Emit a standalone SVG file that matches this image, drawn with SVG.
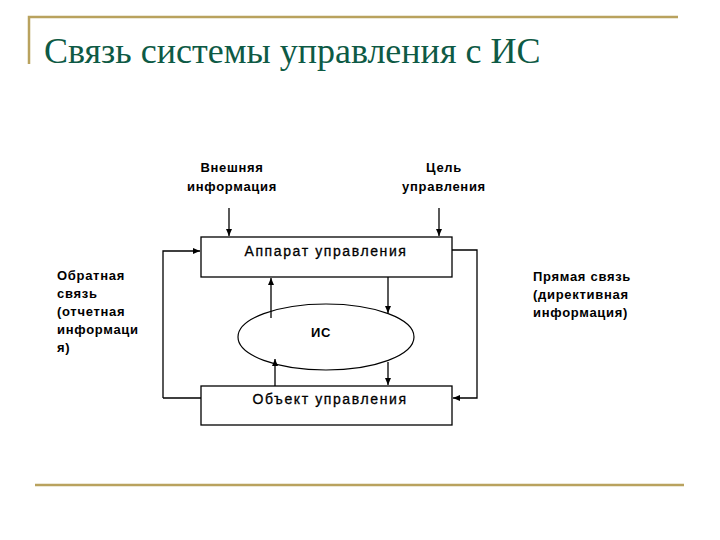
<svg xmlns="http://www.w3.org/2000/svg" width="720" height="540" viewBox="0 0 720 540">
<defs>
<marker id="ah" markerWidth="8" markerHeight="8" refX="7" refY="4" orient="auto" markerUnits="userSpaceOnUse">
<path d="M0,1 L7,4 L0,7 Z" fill="#000"/>
</marker>
<style>
.ln{stroke:#000;stroke-width:1.3;fill:none}
.box{stroke:#000;stroke-width:1.3;fill:#fff}
.lbl{font-family:"Liberation Sans",Arial,sans-serif;font-size:13px;font-weight:bold;letter-spacing:0.7px;fill:#000}
.ttl{font-family:"Liberation Sans",Arial,sans-serif;font-size:14px;letter-spacing:1.6px;fill:#000;stroke:#000;stroke-width:0.3}
.gold{stroke:#B9A25E;stroke-width:2.5;fill:none}
</style>
</defs>
<rect width="720" height="540" fill="#fff"/>
<g id="frame">
<path class="gold" d="M29,64 V17 H678"/>
<path class="gold" d="M35,485 H684"/>
</g>
<text id="title" x="44" y="63" font-family="'Liberation Serif','Times New Roman',serif" font-size="36" fill="#0E5A45">Связь системы управления с ИС</text>
<g id="connectors">
<path class="ln" d="M229,208 V236" marker-end="url(#ah)"/>
<path class="ln" d="M439,208 V236" stroke-width="2" marker-end="url(#ah)"/>
<path class="ln" d="M163,398 H201 M163,398 V251 H200" marker-end="url(#ah)"/>
<path class="ln" d="M452,250 H477 V398 H453" marker-end="url(#ah)"/>
<path class="ln" d="M271,318 V278" marker-end="url(#ah)"/>
<path class="ln" d="M275,386 V359" marker-end="url(#ah)"/>
<path class="ln" d="M388,277 V313" marker-end="url(#ah)"/>
<path class="ln" d="M388,362 V385" marker-end="url(#ah)"/>
</g>
<g id="apparat">
<rect class="box" x="201" y="237" width="251" height="40"/>
<text class="ttl" x="326" y="256" text-anchor="middle">Аппарат управления</text>
</g>
<g id="object">
<rect class="box" x="201" y="386" width="251" height="39"/>
<text class="ttl" x="330" y="404" text-anchor="middle">Объект управления</text>
</g>
<g id="is">
<ellipse cx="326" cy="337" rx="88" ry="33" fill="none" stroke="#000" stroke-width="1.2"/>
<text class="lbl" x="321" y="337" text-anchor="middle">ИС</text>
</g>
<g id="ext-info">
<text class="lbl" x="232" y="172" text-anchor="middle">Внешняя</text>
<text class="lbl" x="232" y="191" text-anchor="middle">информация</text>
</g>
<g id="goal">
<text class="lbl" x="444" y="172" text-anchor="middle">Цель</text>
<text class="lbl" x="444" y="191" text-anchor="middle">управления</text>
</g>
<g id="feedback">
<text class="lbl" x="57" y="280">Обратная</text>
<text class="lbl" x="57" y="298">связь</text>
<text class="lbl" x="57" y="316">(отчетная</text>
<text class="lbl" x="57" y="334">информаци</text>
<text class="lbl" x="57" y="352">я)</text>
</g>
<g id="direct">
<text class="lbl" x="533" y="281">Прямая связь</text>
<text class="lbl" x="533" y="299">(директивная</text>
<text class="lbl" x="533" y="317">информация)</text>
</g>
</svg>
